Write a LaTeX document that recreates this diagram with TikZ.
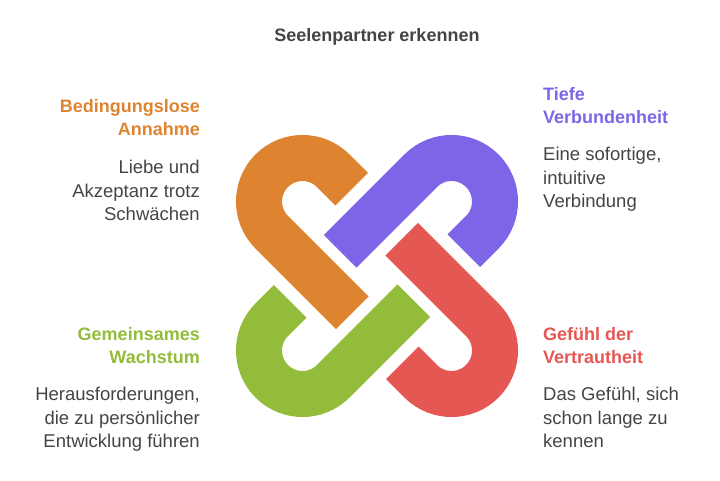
\documentclass[tikz,border=0pt]{standalone}
\usepackage{fontspec}
\setmainfont{Liberation Sans}
\usetikzlibrary{positioning}
\definecolor{hookorange}{HTML}{DE8431}
\definecolor{hookpurple}{HTML}{7E65E8}
\definecolor{hookred}{HTML}{E55753}
\definecolor{hookgreen}{HTML}{93BC3A}
\definecolor{bodygray}{HTML}{444444}
\tikzset{
  hook/.style = {line width = 46pt, line cap = butt},
  head/.style = {font = \fontsize{18}{23.5}\selectfont\bfseries, inner sep = 0pt},
  body/.style = {font = \fontsize{18.5}{23.5}\selectfont, text = bodygray, inner sep = 0pt},
}
\newcommand{\knothook}[2]{%
  \begin{scope}[rotate around = {#1:(377,276)}]
    \draw[hook, #2] (302.5,201.5) ++(45:26) ++(-45:43.5) -- ++(225:26)
      arc[start angle = -45, end angle = -225, radius = 43.5] -- ++(45:114);
  \end{scope}}
\begin{document}
\begin{tikzpicture}[x = 1pt, y = -1pt]
    \useasboundingbox (0,0) rectangle (720,481);
    \knothook{0}{hookorange}
    \knothook{-90}{hookpurple}
    \knothook{180}{hookred}
    \knothook{90}{hookgreen}
    \node[head, text = bodygray] (title) at (377,37) {Seelenpartner erkennen};
    % left column
    \node[head, text = hookorange, align = right, anchor = north east] (annahme) at (200,99) {Bedingungslose\\Annahme};
    \node[body, align = right, anchor = north east] (annahmetxt) at (200,160) {Liebe und\\Akzeptanz trotz\\Schwächen};
    \node[head, text = hookgreen, align = right, anchor = north east] (wachstum) at (200,327) {Gemeinsames\\Wachstum};
    \node[body, align = right, anchor = north east] (wachstumtxt) at (200,387) {Herausforderungen,\\die zu persönlicher\\Entwicklung führen};
    % right column
    \node[head, text = hookpurple, align = left, anchor = north west] (verbund) at (543,87) {Tiefe\\Verbundenheit};
    \node[body, align = left, anchor = north west] (verbundtxt) at (543,147) {Eine sofortige,\\intuitive\\Verbindung};
    \node[head, text = hookred, align = left, anchor = north west] (vertraut) at (543,327) {Gefühl der\\Vertrautheit};
    \node[body, align = left, anchor = north west] (vertrauttxt) at (543,387) {Das Gefühl, sich\\schon lange zu\\kennen};
\end{tikzpicture}
\end{document}
